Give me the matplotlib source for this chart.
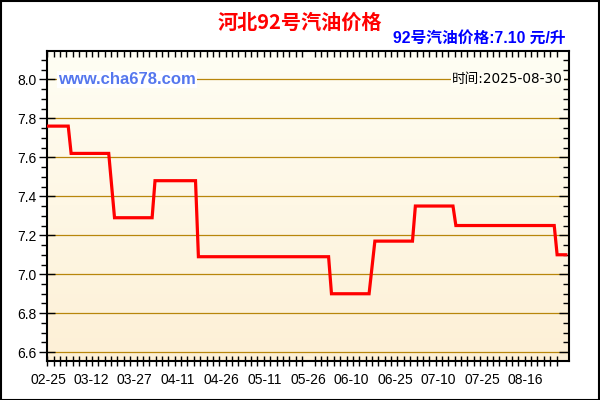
import numpy as np
import matplotlib
matplotlib.use("Agg")
from matplotlib import pyplot as plt
from matplotlib.patches import Rectangle
from matplotlib.ticker import MultipleLocator, FixedLocator

plt.rcParams['font.family'] = ['Liberation Sans', 'Noto Sans CJK SC', 'DejaVu Sans']

# price levels: record index where each level starts / ends, and the price
level_start = [0, 8, 23, 37, 52, 98, 113, 127, 141, 176]
level_end = [7, 21, 36, 51, 97, 111, 126, 140, 175, 179]
prices = [7.76, 7.62, 7.29, 7.48, 7.09, 6.90, 7.17, 7.35, 7.25, 7.10]

tick_labels = ["02-25", "03-12", "03-27", "04-11", "04-26", "05-11",
               "05-26", "06-10", "06-25", "07-10", "07-25", "08-16"]
tick_pos = [0, 15, 30, 45, 60, 75, 90, 105, 120, 135, 150, 165]

title = "河北92号汽油价格"
subtitle = "92号汽油价格:7.10 元/升"
stamp = "时间:2025-08-30"
site = "www.cha678.com"

# corner points of the line
xs, ys = [], []
for s, e, p in zip(level_start, level_end, prices):
    xs += [s, e]
    ys += [p, p]

fig = plt.figure(figsize=(6, 4), dpi=100)
fig.patch.set_facecolor("white")
fig.patches.append(Rectangle((0.001, 0.001), 0.997, 0.996, transform=fig.transFigure,
                             fill=False, edgecolor="black", linewidth=1.5))

ax = fig.add_axes([0.0778, 0.0975, 0.8705, 0.7758])
ax.set_xlim(-0.45, 180.1)
ax.set_ylim(6.555, 8.147)

# background gradient
grad = np.linspace(0, 1, 256).reshape(-1, 1)
top = np.array([255, 254, 244]) / 255
bot = np.array([253, 240, 214]) / 255
img = top + (bot - top) * grad[:, :, None]
ax.imshow(img, extent=[-0.45, 180.1, 6.555, 8.147], aspect="auto", origin="upper", zorder=0)

for v in np.arange(6.6, 8.01, 0.2):
    ax.axhline(v, color="#B8860B", lw=0.9, zorder=1)

ax.plot(xs, ys, color="#FF0000", lw=2.3, zorder=3, solid_joinstyle="miter")

# ticks
ax.yaxis.set_major_locator(FixedLocator(np.round(np.arange(6.6, 8.01, 0.2), 1)))
ax.yaxis.set_minor_locator(MultipleLocator(0.05))
ax.set_yticklabels(["%.1f" % v for v in np.arange(6.6, 8.01, 0.2)])
ax.set_xticks(tick_pos)
ax.set_xticklabels(tick_labels)
ax.xaxis.set_minor_locator(FixedLocator(np.arange(-0.2, 178, 2.2)))

ax.tick_params(axis="y", which="major", direction="inout", length=12, width=1,
               labelsize=10, pad=1, right=True, labelright=False)
ax.tick_params(axis="y", which="minor", direction="out", length=4, width=1, right=True)
ax.tick_params(axis="x", which="major", length=0, labelsize=10, pad=9)
ax.tick_params(axis="x", which="minor", direction="inout", length=7, width=1, top=True)

for sp in ax.spines.values():
    sp.set_linewidth(1.5)
    sp.set_color("black")

# right and top ticks point inward
for t in ax.yaxis.get_minor_ticks():
    t.tick2line.set_marker(matplotlib.markers.TICKLEFT)
    t.tick2line.set_markersize(4)
for t in ax.yaxis.get_major_ticks():
    t.tick2line.set_marker(matplotlib.markers.TICKLEFT)
    t.tick2line.set_markersize(7)
for t in ax.xaxis.get_minor_ticks():
    t.tick2line.set_marker(matplotlib.markers.TICKDOWN)
    t.tick2line.set_markersize(4)

fig.text(0.5, 0.945, title, color="#FF0000", fontsize=14.5, fontweight="bold",
         ha="center", va="center", family=["Noto Sans CJK SC", "DejaVu Sans"])
fig.text(0.943, 0.905, subtitle, color="#0000FF", fontsize=11.3, fontweight="bold",
         ha="right", va="center", family=["Liberation Sans", "Noto Sans CJK SC"])

ax.text(3.5, 8.0, site, color="#5577EE", fontsize=12, fontweight="bold",
        ha="left", va="center", zorder=4,
        bbox=dict(facecolor="white", edgecolor="none", pad=1))
ax.text(178, 8.0, stamp, color="#000000", fontsize=9.8,
        ha="right", va="center", zorder=4, family=["DejaVu Sans", "Noto Sans CJK SC"],
        bbox=dict(facecolor="#FFFEF4", edgecolor="none", pad=0.5))

fig.savefig("out.png", dpi=100)
